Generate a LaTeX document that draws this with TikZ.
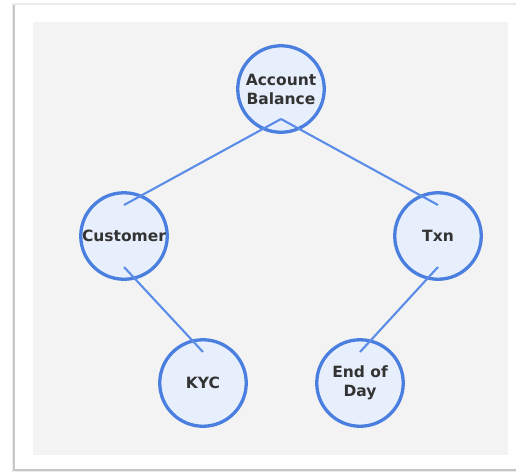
\documentclass[tikz,border=0pt]{standalone}
\usepackage{fontspec}
\setmainfont{DejaVu Sans}
\usetikzlibrary{backgrounds}

\definecolor{ringblue}{HTML}{4A7FE0}
\definecolor{discfill}{HTML}{E8EFFC}
\definecolor{linkblue}{HTML}{5B8DE8}
\definecolor{panelgray}{HTML}{F3F3F3}
\definecolor{labelgray}{HTML}{333333}

\begin{document}
\begin{tikzpicture}[x=1pt,y=-1pt,
  concept/.style={circle,draw=ringblue,line width=3.3pt,fill=discfill,
    minimum size=86.5pt,inner sep=0pt,align=center,text=labelgray,
    font=\fontsize{15.5}{19}\selectfont\bfseries},
  link/.style={draw=linkblue,line width=2.1pt}]

  \useasboundingbox (0,0) rectangle (516,475);

  % card and panel
  \fill[black!8] (12,3) rectangle (516,472);
  \fill[black!22] (13,5) rectangle (516,471);
  \fill[white] (15,5) rectangle (516,469);
  \fill[panelgray] (33,22) rectangle (508,455);

  % circles
  \node [concept] (bal) at (281,89) {Account\\Balance};
  \node [concept] (cus) at (124,236) {Customer};
  \node [concept] (txn) at (438,236) {Txn};
  \node [concept] (kyc) at (203,383) {KYC};
  \node [concept] (eod) at (360,383) {End of\\Day};

  % inner ends of the links
  \coordinate (bal-low) at ([yshift=-30pt]bal.center);
  \coordinate (cus-up) at ([yshift=31pt]cus.center);
  \coordinate (cus-low) at ([yshift=-31pt]cus.center);
  \coordinate (txn-up) at ([yshift=31pt]txn.center);
  \coordinate (txn-low) at ([yshift=-31pt]txn.center);
  \coordinate (kyc-up) at ([yshift=31pt]kyc.center);
  \coordinate (eod-up) at ([yshift=31pt]eod.center);

  \draw [link] (bal-low) -- (cus-up);
  \draw [link] (bal-low) -- (txn-up);
  \draw [link] (cus-low) -- (kyc-up);
  \draw [link] (txn-low) -- (eod-up);
\end{tikzpicture}
\end{document}
